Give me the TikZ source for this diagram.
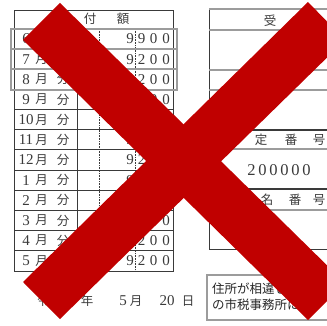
\documentclass[tikz,border=0pt]{standalone}
\usepackage{fontspec}
\setmainfont{Liberation Serif}
\newfontfamily\jpfont{Noto Sans CJK JP}
\definecolor{xred}{HTML}{C00000}
\definecolor{formgray}{HTML}{9C9C9C}
\definecolor{ink}{HTML}{3A3A3A}
\tikzset{
  rule/.style={draw=ink, line width=0.8pt},
  grayrule/.style={draw=formgray, line width=2.4pt},
  dotrule/.style={draw=ink, densely dotted, line width=0.6pt},
  jp/.style={font=\jpfont\fontsize{12.5}{12.5}\selectfont, text=ink, inner sep=0pt},
  num/.style={font=\fontsize{15}{15}\selectfont, text=ink, inner sep=0pt},
  note/.style={font=\jpfont\fontsize{12.5}{12.5}\selectfont, text=black!85, inner sep=0pt, anchor=west},
}
\begin{document}
\begin{tikzpicture}[x=1pt,y=-1pt]
  \useasboundingbox (0,0) rectangle (327,326);
  \clip (0,0) rectangle (327,326);
  % left table
  \draw[rule] (14,10) rectangle (173,271);
  \foreach \k in {0,...,11}
    \draw[rule] (14,{29+20.15*\k}) -- (173,{29+20.15*\k});
  \draw[rule] (77,29) -- (77,271);
  \draw[dotrule] (99,29) -- (99,271);
  \draw[dotrule] (135,29) -- (135,271);
  \node[jp] (hnou) at (57,19) {納};
  \node[jp] (hfu) at (90,19) {付};
  \node[jp] (hgaku) at (123,19) {額};
  \foreach \m/\a/\b [count=\k from 0] in
      {6/9/9,7/9/2,8/9/2,9/9/2,10/9/2,11/9/2,12/9/2,1/9/2,2/9/2,3/9/2,4/9/2,5/9/2} {
    \node[num] (mon\k) at (26,{29+20.15*(\k+0.5)}) {\m};
    \node[jp] (tsuki\k) at (41.5,{29+20.15*(\k+0.5)}) {月};
    \node[jp] (bun\k) at (63,{29+20.15*(\k+0.5)}) {分};
    \node[num] (d1\k) at (130,{29+20.15*(\k+0.5)}) {\a};
    \node[num] (d2\k) at (141.5,{29+20.15*(\k+0.5)}) {\b};
    \node[num] (d3\k) at (153.5,{29+20.15*(\k+0.5)}) {0};
    \node[num] (d4\k) at (166,{29+20.15*(\k+0.5)}) {0};
  }
  % highlighted rows
  \draw[grayrule] (11,29) rectangle (177,90);
  \draw[grayrule] (11,49.2) -- (177,49.2);
  \draw[grayrule] (11,69.3) -- (177,69.3);
  % date line
  \node[jp] (reiwa) at (50,301) {令和};
  \node[jp] (nen) at (87,301) {年};
  \node[num] (dmon) at (123,301) {5};
  \node[jp] (dtsuki) at (136,301) {月};
  \node[num] (dday) at (167,301) {20};
  \node[jp] (dnichi) at (188,301) {日};
  % right table
  \draw[rule] (209,9.5) -- (209,249) -- (330,249);
  \foreach \y in {9.5,30,70,90,149,210}
    \draw[grayrule, line width=2pt] (209,\y) -- (330,\y);
  \draw[rule, line width=1.4pt] (209,130) -- (330,130);
  \draw[rule, line width=1.4pt] (209,189) -- (330,189);
  \node[jp] (uke) at (270,21) {受};
  \node[jp] (shi) at (232,140) {指};
  \node[jp] (tei) at (261,140) {定};
  \node[jp] (ban1) at (291,140) {番};
  \node[jp] (go1) at (319,140) {号};
  \foreach \d [count=\i] in {2,0,0,0,0,0}
    \node[num, font=\fontsize{16.5}{16.5}\selectfont] (no\i) at ({240.5+11*\i},170) {\d};
  \node[jp] (ate) at (239,200) {宛};
  \node[jp] (mei) at (267,200) {名};
  \node[jp] (ban2) at (295,200) {番};
  \node[jp] (go2) at (319,200) {号};
  % notice box
  \draw[draw=formgray, line width=2.5pt] (207,275) rectangle (340,320);
  \node[note] (line1) at (212,289) {住所が相違してい};
  \node[note] (line2) at (212,305) {の市税事務所に};
  % cross
  \fill[xred] (23,40) -- (60,3) -- (345,283) -- (308,320) -- cycle;
  \fill[xred] (308,2) -- (345,40) -- (60,319) -- (23,282) -- cycle;
\end{tikzpicture}
\end{document}
